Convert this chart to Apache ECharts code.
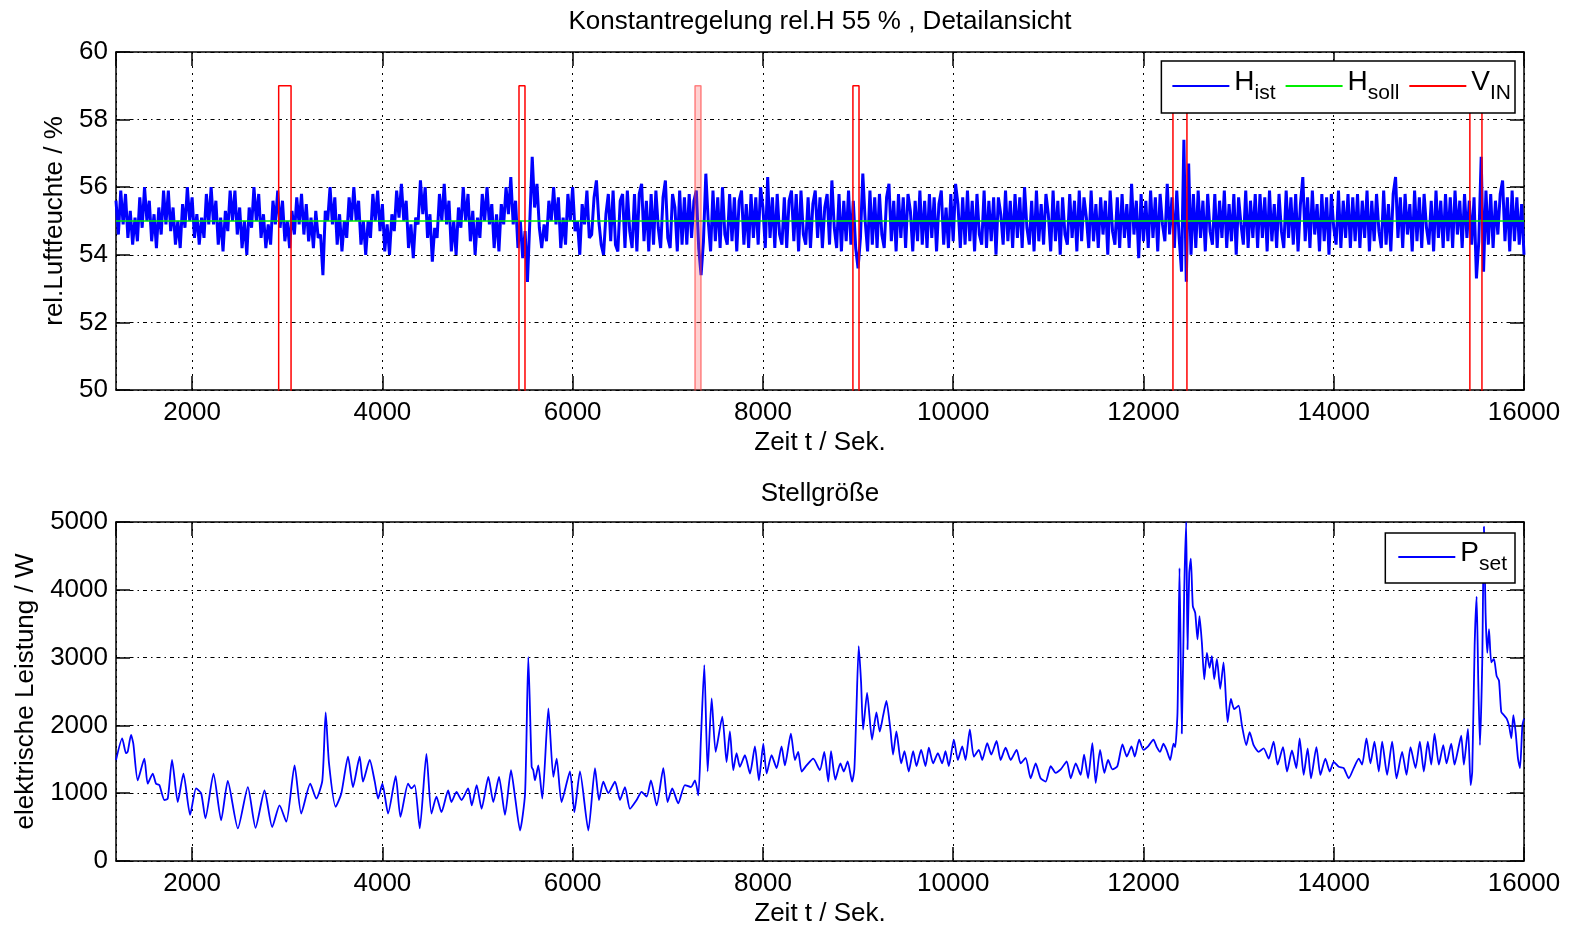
<!DOCTYPE html>
<html>
<head>
<meta charset="utf-8">
<title>Konstantregelung rel.H 55 %</title>
<script src="https://cdn.jsdelivr.net/npm/echarts@6/dist/echarts.min.js"></script>
<style>
  html, body { margin: 0; padding: 0; background: #fff; }
  #chart { width: 1572px; height: 928px; }
</style>
</head>
<body>
<div id="chart"></div>
<script>
// ---- time range of both plots (seconds) ----
const T_START = 1200;
const T_END = 16000;

// ---- relative humidity H_ist, one block per 1000 s, one sample every 25 s ----
const HUM_BLOCK_SPAN = 1000;
const HUM_STEP = 25;
const humidityBlocks = [
  [55.6,54.6,55.9,54.9,55.8,54.5,55.3,54.3,55.1,54.4,
   55.7,54.8,56.0,55.0,55.6,54.4,55.2,54.2,55.4,54.6,
   55.9,54.9,55.9,54.7,55.4,54.3,55.0,54.2,55.5,54.8,
   56.0,55.0,55.7,54.5,55.2,54.3,55.1,54.5,55.8,54.9],
  [56.0,54.9,55.6,54.3,55.1,54.1,55.3,54.7,55.9,55.0,
   55.9,54.6,55.4,54.2,55.0,54.0,55.4,54.8,56.0,55.0,
   55.8,54.5,55.2,54.2,54.9,54.3,55.6,54.9,55.9,54.8,
   55.6,54.4,55.0,54.2,55.3,54.6,55.7,54.9,55.8,54.6],
  [55.5,54.4,55.1,54.2,55.3,54.5,54.6,53.4,55.3,55.0,
   56.0,54.9,55.7,54.3,55.2,54.1,55.0,54.5,55.7,55.0,
   56.0,55.0,55.6,54.3,55.0,54.0,55.0,54.5,55.8,55.0,
   55.9,54.7,55.5,54.1,54.9,54.0,55.2,54.7,55.9,55.1],
  [56.1,55.0,55.6,54.2,54.9,53.9,55.1,54.9,56.2,55.2,
   56.0,54.5,55.2,53.8,54.8,54.5,55.8,55.0,56.1,54.9,
   55.6,54.1,55.0,54.0,55.4,54.8,56.0,55.0,55.8,54.4,
   55.3,54.0,55.1,54.5,55.8,55.0,56.0,54.9,55.5,54.2],
  [55.2,54.1,55.5,54.9,56.0,55.2,56.3,54.9,55.6,54.2,
   55.0,53.9,54.7,53.2,55.0,56.9,55.4,56.1,54.8,54.2,
   54.9,54.4,55.6,55.0,56.0,54.9,55.7,54.2,55.1,54.3,
   55.8,55.0,56.0,54.7,55.0,54.0,55.5,54.9,55.9,54.5],
  [54.6,55.7,56.2,55.0,54.3,54.0,55.2,55.8,54.4,55.9,
   54.3,54.1,55.6,55.8,54.2,55.9,54.7,54.2,55.8,54.1,
   55.8,56.1,54.4,55.6,54.1,55.8,54.3,55.9,54.8,54.2,
   55.7,56.2,54.5,54.2,55.8,55.4,54.1,55.9,54.3,55.7],
  [54.3,55.8,54.5,55.6,55.9,54.2,53.4,54.4,56.4,55.0,
   54.1,55.9,54.4,55.7,54.2,56.0,54.6,54.3,55.8,54.4,
   55.7,54.1,55.6,55.9,54.3,55.5,54.2,55.8,54.5,55.7,
   54.3,56.0,55.4,54.2,56.3,54.5,55.7,54.2,55.8,54.6],
  [54.3,55.7,54.2,55.6,55.9,54.4,55.8,54.1,55.9,54.6,
   54.3,55.7,54.2,55.5,55.9,54.5,55.7,54.2,55.4,55.8,
   54.3,56.2,54.8,54.2,55.8,54.1,55.6,54.4,55.9,54.3,
   55.6,54.2,53.6,54.5,56.4,55.0,54.1,55.9,54.3,55.7],
  [54.2,55.8,54.6,54.2,55.7,56.1,54.4,55.6,54.1,55.8,
   54.5,55.7,54.2,55.8,55.3,54.1,55.6,54.4,55.9,54.3,
   55.6,54.2,55.8,54.5,55.7,54.1,55.5,55.9,54.3,55.4,
   54.2,55.8,54.4,56.1,55.5,54.2,55.7,54.3,55.9,54.4],
  [55.6,54.1,55.8,54.6,54.3,55.9,54.2,55.6,54.4,55.7,
   54.0,55.7,55.2,54.3,55.9,54.4,55.6,54.2,55.8,54.5,
   55.7,54.2,56.0,54.8,54.3,55.6,54.1,55.9,54.4,55.5,
   54.3,55.8,55.2,54.1,55.9,54.4,55.6,54.0,55.7,54.6],
  [54.3,55.8,54.5,55.6,54.1,55.9,54.4,55.7,55.1,54.2,
   55.9,54.4,55.5,54.2,55.7,54.6,55.6,54.0,55.9,54.7,
   54.3,55.7,54.2,55.8,54.5,55.5,54.2,56.1,54.6,55.6,
   53.9,55.8,54.4,55.6,54.2,55.9,54.5,55.7,54.1,55.8],
  [54.9,54.4,56.1,54.6,55.7,54.2,55.9,54.5,53.5,57.4,
   53.2,56.7,54.0,55.8,54.2,55.9,54.5,55.6,54.1,55.8,
   54.7,54.3,55.8,54.2,55.6,54.5,55.9,54.2,55.5,54.4,
   55.8,54.0,55.7,54.9,54.3,55.9,54.2,55.6,54.5,55.8],
  [54.2,55.8,54.5,55.7,54.1,55.9,54.4,55.5,54.2,55.8,
   54.7,54.2,55.9,54.5,55.7,54.3,55.8,54.1,55.5,56.3,
   54.4,55.7,54.2,55.9,54.6,55.5,54.1,55.8,54.4,55.7,
   54.0,55.8,54.8,54.3,55.9,54.2,55.6,54.5,55.8,54.2],
  [55.7,54.4,55.8,54.2,55.6,54.5,55.9,54.1,55.6,54.4,
   55.8,54.7,54.2,55.9,54.3,55.5,54.1,55.8,56.3,54.5,
   55.7,54.2,55.8,54.6,55.5,54.1,55.9,54.4,55.7,54.2,
   55.8,54.8,54.3,55.6,54.1,55.9,54.5,55.6,54.2,55.8],
  [54.4,55.7,54.2,55.9,54.6,55.6,54.2,55.8,54.5,55.6,
   54.3,55.7,53.3,54.4,56.9,53.5,55.9,54.3,55.8,54.2,
   55.6,54.6,55.8,56.2,54.4,55.7,54.1,55.9,54.4,55.7,
   54.3,55.5,54.0]
];

// ---- setpoint H_soll ----
const humiditySetpoint = 55;

// ---- valve signal V_IN: switching instants (s) and level ----
const valveOn  = [2910, 5436, 7286, 8946, 12310, 15431];
const valveOff = [3040, 5499, 7349, 9010, 12457, 15558];
const valveBurst = [false, false, true, false, false, false];
const valveHigh = 59;
const valveLow = 0;

// ---- electric power P_set: [time s, power W] ----
const powerReadings = [
  [1200,1490],[1265,1810],[1305,1590],[1323,1610],[1358,1860],[1382,1730],[1428,1190],[1498,1510],
  [1533,1140],[1586,1290],[1621,1140],[1656,1120],[1709,900],[1744,920],[1789,1490],[1849,870],
  [1909,1290],[1979,680],[2042,1070],[2095,1000],[2140,630],[2225,1290],[2305,600],[2375,1180],
  [2481,480],[2586,1090],[2667,490],[2761,1040],[2842,500],[2919,820],[2990,580],[3077,1410],
  [3147,700],[3242,1140],[3305,920],[3369,1190],[3404,2190],[3439,1440],[3509,800],[3569,1000],
  [3639,1540],[3691,1090],[3761,1540],[3796,1170],[3867,1490],[3920,1170],[3955,920],[4000,1140],
  [4060,700],[4140,1250],[4190,650],[4270,1140],[4305,1070],[4340,1120],[4393,480],[4463,1580],
  [4516,700],[4568,950],[4621,720],[4691,1040],[4726,870],[4779,1020],[4832,900],[4902,1070],
  [4940,820],[4991,1120],[5043,770],[5114,1240],[5166,870],[5226,1240],[5289,680],[5352,1340],
  [5394,950],[5447,450],[5500,1000],[5534,3010],[5569,1390],[5586,1340],[5604,1190],[5639,1410],
  [5681,920],[5745,2250],[5797,1240],[5832,1510],[5883,870],[5972,1320],[6018,720],[6077,1320],
  [6165,450],[6235,1370],[6277,900],[6322,1170],[6375,1000],[6445,1170],[6498,900],[6550,1090],
  [6603,770],[6673,900],[6725,1020],[6778,950],[6823,1190],[6883,820],[6953,1370],[6998,870],
  [7047,1070],[7110,850],[7180,1120],[7244,1090],[7286,1190],[7321,970],[7349,1830],[7384,2890],
  [7419,1320],[7461,2400],[7503,1610],[7573,2130],[7618,1460],[7653,1910],[7688,1340],[7723,1590],
  [7758,1390],[7811,1560],[7864,1290],[7916,1690],[7958,1190],[8004,1730],[8039,1290],[8091,1560],
  [8144,1370],[8196,1690],[8231,1410],[8294,1880],[8336,1490],[8371,1610],[8407,1320],[8459,1410],
  [8529,1510],[8599,1340],[8645,1610],[8687,1170],[8716,1620],[8761,1200],[8814,1440],[8850,1320],
  [8891,1470],[8937,1170],[8961,1350],[8982,2190],[9007,3170],[9032,2630],[9053,1940],[9095,2480],
  [9147,1790],[9193,2190],[9228,1910],[9263,2140],[9298,2360],[9340,1940],[9368,1570],[9403,1910],
  [9453,1440],[9488,1620],[9533,1320],[9579,1620],[9614,1400],[9663,1640],[9709,1400],[9744,1670],
  [9789,1440],[9839,1590],[9884,1440],[9919,1620],[9954,1400],[10007,1790],[10049,1490],[10095,1690],
  [10130,1490],[10175,1940],[10217,1540],[10270,1640],[10305,1490],[10358,1740],[10400,1570],[10456,1770],
  [10498,1490],[10551,1670],[10604,1490],[10667,1640],[10709,1440],[10761,1520],[10814,1220],[10867,1440],
  [10919,1220],[10972,1170],[11025,1400],[11077,1300],[11130,1350],[11193,1470],[11235,1220],[11288,1440],
  [11340,1270],[11376,1570],[11418,1220],[11463,1740],[11498,1150],[11544,1640],[11589,1300],[11628,1490],
  [11674,1350],[11726,1400],[11779,1720],[11825,1540],[11874,1690],[11909,1540],[11955,1790],[12000,1640],
  [12049,1690],[12105,1790],[12140,1680],[12175,1610],[12210,1730],[12245,1630],[12281,1490],[12316,1730],
  [12333,1680],[12358,2200],[12379,4320],[12403,1880],[12428,3950],[12449,5000],[12463,3120],[12481,4240],
  [12498,4460],[12519,3760],[12544,3660],[12568,3270],[12589,3610],[12614,3220],[12639,2680],[12667,3070],
  [12695,2850],[12719,3020],[12744,2680],[12772,2980],[12807,2540],[12842,2930],[12884,2050],[12919,2390],
  [12954,2240],[13000,2290],[13035,2000],[13081,1710],[13116,1900],[13158,1710],[13210,1610],[13263,1660],
  [13316,1510],[13368,1760],[13410,1420],[13467,1680],[13509,1320],[13561,1630],[13607,1370],[13642,1810],
  [13684,1270],[13726,1660],[13761,1220],[13818,1680],[13860,1270],[13912,1510],[13958,1320],[14000,1460],
  [14053,1390],[14105,1370],[14158,1220],[14210,1370],[14263,1510],[14298,1420],[14344,1810],[14386,1440],
  [14428,1760],[14474,1320],[14509,1760],[14561,1270],[14614,1760],[14660,1220],[14719,1610],[14765,1270],
  [14807,1680],[14860,1370],[14905,1760],[14947,1320],[14989,1760],[15025,1420],[15060,1880],[15105,1420],
  [15151,1710],[15186,1440],[15235,1730],[15270,1420],[15305,1630],[15340,1850],[15368,1420],[15411,1950],
  [15439,1120],[15456,1320],[15481,3170],[15502,3900],[15519,2680],[15537,1710],[15561,2930],[15579,4930],
  [15596,3660],[15614,3070],[15632,3420],[15656,2930],[15684,2980],[15712,2730],[15737,2660],[15761,2200],
  [15789,2150],[15818,2100],[15842,2000],[15867,1810],[15888,2150],[15912,1900],[15937,1510],[15958,1370],
  [15983,2000],[16000,2100]
];

// ---- axis ranges ----
const humidityRange = [50, 60, 2];
const powerRange = [0, 5000, 1000];

// ---------------------------------------------------------------
const FONT = "'Liberation Sans', Arial, Helvetica, sans-serif";
const BLUE = '#0000ff', GREEN = '#00ee00', RED = '#ff0000';

const humidityPoints = [];
humidityBlocks.forEach((block, k) => {
  block.forEach((v, j) => {
    humidityPoints.push([T_START + k * HUM_BLOCK_SPAN + j * HUM_STEP, v]);
  });
});

const setpointPoints = [[T_START, humiditySetpoint], [T_END, humiditySetpoint]];

// step trace of the valve signal (regular pulses) and shaded bursts
const valvePoints = [[T_START, valveLow]];
const burstPoints = [];
valveOn.forEach((on, i) => {
  const off = valveOff[i];
  const target = valveBurst[i] ? burstPoints : valvePoints;
  if (valveBurst[i] && burstPoints.length) burstPoints.push([on, null]);
  target.push([on, valveLow], [on, valveHigh], [off, valveHigh], [off, valveLow]);
});
valvePoints.push([T_END, valveLow]);

const legendNames = {
  Hist: '{m|H}{s|ist}',
  Hsoll: '{m|H}{s|soll}',
  VIN: '{m|V}{s|IN}',
  Pset: '{m|P}{s|set}'
};
const legendText = {
  color: '#000',
  rich: {
    m: { fontSize: 28, fontFamily: FONT, color: '#000', lineHeight: 36, verticalAlign: 'top', padding: [0, 0, 10, 0] },
    s: { fontSize: 21, fontFamily: FONT, color: '#000', lineHeight: 24, verticalAlign: 'bottom' }
  }
};

const grids = [
  { left: 116, top: 52, width: 1408, height: 338 },
  { left: 116, top: 522, width: 1408, height: 340 }
];

const FS = 26;
const labelStyle = { color: '#000', fontSize: FS, fontFamily: FONT };
const dotGrid = { show: true, lineStyle: { color: '#000', width: 1, type: [2, 5] } };
const dashDotGrid = { show: true, lineStyle: { color: '#000', width: 1, type: [4, 4, 1.5, 4] } };
const plainNumber = v => String(v);

function timeAxis(gridIndex, position) {
  const main = position === 'bottom';
  return {
    type: 'value', gridIndex, position,
    min: T_START, max: T_END, minInterval: 2000, maxInterval: 2000, splitNumber: 7,
    axisLine: { show: true, onZero: false, lineStyle: { color: '#000', width: 1.5 } },
    axisTick: { show: true, inside: true, length: 14, lineStyle: { color: '#000', width: 1.5 } },
    axisLabel: main ? Object.assign({ show: true, margin: 10, showMinLabel: false, formatter: plainNumber }, labelStyle) : { show: false },
    splitLine: main ? dotGrid : { show: false },
    name: main ? 'Zeit t / Sek.' : '',
    nameLocation: 'middle', nameGap: 40,
    nameTextStyle: labelStyle
  };
}

function valueAxis(gridIndex, position, range, name, gap) {
  const main = position === 'left';
  return {
    type: 'value', gridIndex, position,
    min: range[0], max: range[1], interval: range[2],
    axisLine: { show: true, onZero: false, lineStyle: { color: '#000', width: 1.5 } },
    axisTick: { show: true, inside: true, length: 14, lineStyle: { color: '#000', width: 1.5 } },
    axisLabel: main ? Object.assign({ show: true, margin: 8, formatter: plainNumber }, labelStyle) : { show: false },
    splitLine: main ? dashDotGrid : { show: false },
    name: main ? name : '',
    nameLocation: 'middle', nameRotate: 90, nameGap: gap,
    nameTextStyle: labelStyle
  };
}

function legendBox(names, top, padding) {
  return {
    data: names,
    right: 57, top, orient: 'horizontal', z: 20,
    icon: 'rect', itemWidth: 57, itemHeight: 2, itemGap: 10,
    padding,
    backgroundColor: '#fff', borderColor: '#000', borderWidth: 1.5,
    formatter: n => legendNames[n],
    textStyle: legendText,
    selectedMode: false
  };
}

const chart = echarts.init(document.getElementById('chart'), null, { renderer: 'canvas' });

chart.setOption({
  animation: false,
  backgroundColor: '#fff',
  title: [
    { text: 'Konstantregelung rel.H 55 % , Detailansicht', left: 820, top: 9, textAlign: 'center', padding: 0,
      textStyle: { fontSize: FS, fontWeight: 'normal', color: '#000', fontFamily: FONT } },
    { text: 'Stellgröße', left: 820, top: 481, textAlign: 'center', padding: 0,
      textStyle: { fontSize: FS, fontWeight: 'normal', color: '#000', fontFamily: FONT } }
  ],
  legend: [
    legendBox(['Hist', 'Hsoll', 'VIN'], 61, [7, 4, 7, 11]),
    legendBox(['Pset'], 533, [6, 8, 6, 13])
  ],
  grid: grids,
  xAxis: [
    timeAxis(0, 'bottom'), timeAxis(0, 'top'),
    timeAxis(1, 'bottom'), timeAxis(1, 'top')
  ],
  yAxis: [
    valueAxis(0, 'left', humidityRange, 'rel.Luftfeuchte / %', 44),
    valueAxis(0, 'right', humidityRange, '', 0),
    valueAxis(1, 'left', powerRange, 'elektrische Leistung / W', 69),
    valueAxis(1, 'right', powerRange, '', 0)
  ],
  series: [
    {
      name: 'Hist', type: 'line', xAxisIndex: 0, yAxisIndex: 0,
      data: humidityPoints, symbol: 'none', showSymbol: false, sampling: null,
      color: BLUE, lineStyle: { color: BLUE, width: 3, join: 'bevel' }, z: 2
    },
    {
      name: 'Hsoll', type: 'line', xAxisIndex: 0, yAxisIndex: 0,
      data: setpointPoints, symbol: 'none', showSymbol: false,
      color: GREEN, lineStyle: { color: GREEN, width: 1.5 }, z: 3
    },
    {
      name: 'VIN', type: 'line', xAxisIndex: 0, yAxisIndex: 0,
      data: valvePoints, symbol: 'none', showSymbol: false, clip: true,
      color: RED, lineStyle: { color: RED, width: 1.5 }, z: 4
    },
    {
      name: 'VIN', type: 'line', xAxisIndex: 0, yAxisIndex: 0,
      data: burstPoints, symbol: 'none', showSymbol: false, clip: true, connectNulls: false,
      color: RED, lineStyle: { color: 'rgba(255,60,60,0.6)', width: 1.5 },
      areaStyle: { color: 'rgba(255,90,90,0.4)' }, z: 4
    },
    {
      name: 'Pset', type: 'line', xAxisIndex: 2, yAxisIndex: 2,
      data: powerReadings, symbol: 'none', showSymbol: false, smooth: 0.2, clip: true,
      color: BLUE, lineStyle: { color: BLUE, width: 1.8 }, z: 2
    }
  ]
});
</script>
</body>
</html>
